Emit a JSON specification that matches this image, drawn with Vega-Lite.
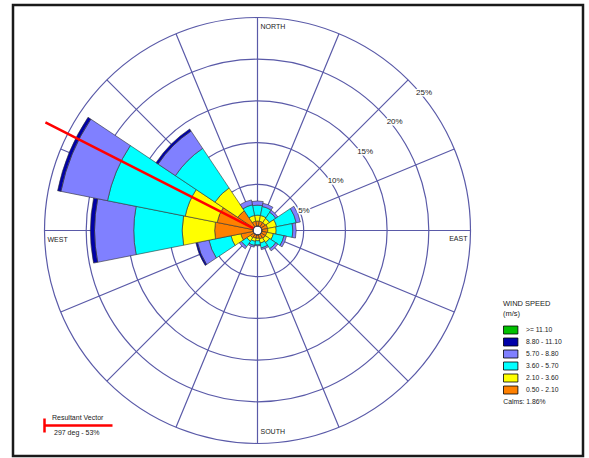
{
  "$schema": "https://vega.github.io/schema/vega-lite/v6.json",
  "width": 570,
  "height": 451,
  "autosize": "none",
  "padding": {"left": 13, "top": 5, "right": 6, "bottom": 2},
  "background": "white",
  "config": {"view": {"stroke": null}, "font": "Liberation Sans"},
  "datasets": {
    "rings": [{"pct": 5, "label": "5%"}, {"pct": 10, "label": "10%"}, {"pct": 15, "label": "15%"}, {"pct": 20, "label": "20%"}, {"pct": 25, "label": "25%"}],
    "spokes": [{"deg": 0}, {"deg": 22.5}, {"deg": 45}, {"deg": 67.5}, {"deg": 90}, {"deg": 112.5}, {"deg": 135}, {"deg": 157.5}, {"deg": 180}, {"deg": 202.5}, {"deg": 225}, {"deg": 247.5}, {"deg": 270}, {"deg": 292.5}, {"deg": 315}, {"deg": 337.5}],
    "rose": [
      {"dir": "N", "speed": "0.50 - 2.10", "lo": 0.5, "pct": 0.6},
      {"dir": "N", "speed": "2.10 - 3.60", "lo": 2.1, "pct": 0.7},
      {"dir": "N", "speed": "3.60 - 5.70", "lo": 3.6, "pct": 1.2},
      {"dir": "N", "speed": "5.70 - 8.80", "lo": 5.7, "pct": 0.5},
      {"dir": "NNE", "speed": "0.50 - 2.10", "lo": 0.5, "pct": 0.6},
      {"dir": "NNE", "speed": "2.10 - 3.60", "lo": 2.1, "pct": 0.7},
      {"dir": "NNE", "speed": "3.60 - 5.70", "lo": 3.6, "pct": 1.1},
      {"dir": "NNE", "speed": "5.70 - 8.80", "lo": 5.7, "pct": 0.4},
      {"dir": "NE", "speed": "0.50 - 2.10", "lo": 0.5, "pct": 0.6},
      {"dir": "NE", "speed": "2.10 - 3.60", "lo": 2.1, "pct": 0.6},
      {"dir": "NE", "speed": "3.60 - 5.70", "lo": 3.6, "pct": 0.9},
      {"dir": "NE", "speed": "5.70 - 8.80", "lo": 5.7, "pct": 0.3},
      {"dir": "ENE", "speed": "0.50 - 2.10", "lo": 0.5, "pct": 0.7},
      {"dir": "ENE", "speed": "2.10 - 3.60", "lo": 2.1, "pct": 1.1},
      {"dir": "ENE", "speed": "3.60 - 5.70", "lo": 3.6, "pct": 2.4},
      {"dir": "ENE", "speed": "5.70 - 8.80", "lo": 5.7, "pct": 0.5},
      {"dir": "E", "speed": "0.50 - 2.10", "lo": 0.5, "pct": 0.7},
      {"dir": "E", "speed": "2.10 - 3.60", "lo": 2.1, "pct": 1.0},
      {"dir": "E", "speed": "3.60 - 5.70", "lo": 3.6, "pct": 2.0},
      {"dir": "E", "speed": "5.70 - 8.80", "lo": 5.7, "pct": 0.4},
      {"dir": "ESE", "speed": "0.50 - 2.10", "lo": 0.5, "pct": 0.6},
      {"dir": "ESE", "speed": "2.10 - 3.60", "lo": 2.1, "pct": 0.8},
      {"dir": "ESE", "speed": "3.60 - 5.70", "lo": 3.6, "pct": 1.3},
      {"dir": "ESE", "speed": "5.70 - 8.80", "lo": 5.7, "pct": 0.3},
      {"dir": "SE", "speed": "0.50 - 2.10", "lo": 0.5, "pct": 0.6},
      {"dir": "SE", "speed": "2.10 - 3.60", "lo": 2.1, "pct": 0.6},
      {"dir": "SE", "speed": "3.60 - 5.70", "lo": 3.6, "pct": 0.9},
      {"dir": "SE", "speed": "5.70 - 8.80", "lo": 5.7, "pct": 0.3},
      {"dir": "SSE", "speed": "0.50 - 2.10", "lo": 0.5, "pct": 0.5},
      {"dir": "SSE", "speed": "2.10 - 3.60", "lo": 2.1, "pct": 0.5},
      {"dir": "SSE", "speed": "3.60 - 5.70", "lo": 3.6, "pct": 0.6},
      {"dir": "SSE", "speed": "5.70 - 8.80", "lo": 5.7, "pct": 0.2},
      {"dir": "S", "speed": "0.50 - 2.10", "lo": 0.5, "pct": 0.4},
      {"dir": "S", "speed": "2.10 - 3.60", "lo": 2.1, "pct": 0.3},
      {"dir": "S", "speed": "3.60 - 5.70", "lo": 3.6, "pct": 0.5},
      {"dir": "S", "speed": "5.70 - 8.80", "lo": 5.7, "pct": 0.1},
      {"dir": "SSW", "speed": "0.50 - 2.10", "lo": 0.5, "pct": 0.4},
      {"dir": "SSW", "speed": "2.10 - 3.60", "lo": 2.1, "pct": 0.4},
      {"dir": "SSW", "speed": "3.60 - 5.70", "lo": 3.6, "pct": 0.5},
      {"dir": "SSW", "speed": "5.70 - 8.80", "lo": 5.7, "pct": 0.2},
      {"dir": "SW", "speed": "0.50 - 2.10", "lo": 0.5, "pct": 0.5},
      {"dir": "SW", "speed": "2.10 - 3.60", "lo": 2.1, "pct": 0.5},
      {"dir": "SW", "speed": "3.60 - 5.70", "lo": 3.6, "pct": 0.8},
      {"dir": "SW", "speed": "5.70 - 8.80", "lo": 5.7, "pct": 0.3},
      {"dir": "WSW", "speed": "0.50 - 2.10", "lo": 0.5, "pct": 1.5},
      {"dir": "WSW", "speed": "2.10 - 3.60", "lo": 2.1, "pct": 1.2},
      {"dir": "WSW", "speed": "3.60 - 5.70", "lo": 3.6, "pct": 2.7},
      {"dir": "WSW", "speed": "5.70 - 8.80", "lo": 5.7, "pct": 1.4},
      {"dir": "WSW", "speed": "8.80 - 11.10", "lo": 8.8, "pct": 0.2},
      {"dir": "W", "speed": "0.50 - 2.10", "lo": 0.5, "pct": 4.6},
      {"dir": "W", "speed": "2.10 - 3.60", "lo": 2.1, "pct": 3.9},
      {"dir": "W", "speed": "3.60 - 5.70", "lo": 3.6, "pct": 5.8},
      {"dir": "W", "speed": "5.70 - 8.80", "lo": 5.7, "pct": 4.7},
      {"dir": "W", "speed": "8.80 - 11.10", "lo": 8.8, "pct": 0.5},
      {"dir": "WNW", "speed": "0.50 - 2.10", "lo": 0.5, "pct": 4.4},
      {"dir": "WNW", "speed": "2.10 - 3.60", "lo": 2.1, "pct": 3.9},
      {"dir": "WNW", "speed": "3.60 - 5.70", "lo": 3.6, "pct": 9.5},
      {"dir": "WNW", "speed": "5.70 - 8.80", "lo": 5.7, "pct": 5.7},
      {"dir": "WNW", "speed": "8.80 - 11.10", "lo": 8.8, "pct": 0.4},
      {"dir": "NW", "speed": "0.50 - 2.10", "lo": 0.5, "pct": 2.3},
      {"dir": "NW", "speed": "2.10 - 3.60", "lo": 2.1, "pct": 3.3},
      {"dir": "NW", "speed": "3.60 - 5.70", "lo": 3.6, "pct": 5.7},
      {"dir": "NW", "speed": "5.70 - 8.80", "lo": 5.7, "pct": 2.5},
      {"dir": "NW", "speed": "8.80 - 11.10", "lo": 8.8, "pct": 0.3},
      {"dir": "NNW", "speed": "0.50 - 2.10", "lo": 0.5, "pct": 0.6},
      {"dir": "NNW", "speed": "2.10 - 3.60", "lo": 2.1, "pct": 0.7},
      {"dir": "NNW", "speed": "3.60 - 5.70", "lo": 3.6, "pct": 1.3},
      {"dir": "NNW", "speed": "5.70 - 8.80", "lo": 5.7, "pct": 0.6}
    ],
    "resultant": [{"deg": 297, "label": "297 deg - 53%"}],
    "calm": [{"label": "Calms: 1.86%"}]
  },
  "resolve": {"scale": {"theta": "independent"}},
  "layer": [
    {
      "data": {"values": [{}]},
      "mark": {"type": "rect", "fill": "transparent", "stroke": "#1a1a1a", "strokeWidth": 2.5},
      "encoding": {}
    },
    {
      "data": {"name": "rings"},
      "mark": {"type": "arc", "filled": false, "stroke": "#5a5aa8", "strokeWidth": 1.2, "theta": 0, "theta2": 6.2832, "xOffset": -40.5},
      "encoding": {
        "radius": {"field": "pct", "type": "quantitative", "stack": false, "scale": {"type": "linear", "domain": [0, 25], "range": [4.5, 213], "nice": false, "zero": false}}
      }
    },
    {
      "data": {"name": "spokes"},
      "mark": {"type": "arc", "filled": false, "stroke": "#5a5aa8", "strokeWidth": 1.2, "xOffset": -40.5},
      "encoding": {
        "theta": {"field": "deg", "type": "quantitative", "stack": false, "scale": {"domain": [0, 360], "range": [0, 6.283185]}},
        "theta2": {"field": "deg"},
        "radius": {"datum": 25, "type": "quantitative"},
        "radius2": {"datum": 0}
      }
    },
    {
      "data": {"name": "rose"},
      "mark": {"type": "arc", "stroke": "#333333", "strokeWidth": 0.6, "xOffset": -40.5},
      "encoding": {
        "theta": {"field": "dir", "type": "nominal", "scale": {"type": "band", "domain": ["N", "NNE", "NE", "ENE", "E", "ESE", "SE", "SSE", "S", "SSW", "SW", "WSW", "W", "WNW", "NW", "NNW"], "range": [-0.19635, 6.08684], "paddingInner": 0, "paddingOuter": 0}},
        "radius": {"field": "pct", "type": "quantitative", "stack": true},
        "color": {
          "field": "speed", "type": "nominal",
          "scale": {"domain": [">= 11.10", "8.80 - 11.10", "5.70 - 8.80", "3.60 - 5.70", "2.10 - 3.60", "0.50 - 2.10"], "range": ["#00c000", "#0000a8", "#8080ff", "#00ffff", "#ffff00", "#ff8000"]},
          "legend": {
            "orient": "none", "legendX": 490, "legendY": 295, "padding": 0,
            "title": ["WIND SPEED", "(m/s)"], "titleFontSize": 7.5, "titleFontWeight": "normal", "titleColor": "#222222", "titleLineHeight": 10, "titlePadding": 8,
            "symbolType": "M-1,-1H2.6V1H-1Z", "symbolSize": 64, "symbolStrokeColor": "#000000", "symbolStrokeWidth": 0.8,
            "labelFontSize": 6.8, "labelColor": "#222222", "labelOffset": 14, "rowPadding": -1
          }
        },
        "order": {"field": "lo", "type": "quantitative", "sort": "ascending"}
      }
    },
    {
      "data": {"name": "resultant"},
      "mark": {"type": "arc", "filled": false, "strokeWidth": 2.5, "xOffset": -40.5},
      "encoding": {
        "theta": {"field": "deg", "type": "quantitative", "stack": false, "scale": {"domain": [0, 360], "range": [0, 6.283185]}},
        "theta2": {"field": "deg"},
        "radius": {"datum": 28, "type": "quantitative"},
        "radius2": {"datum": 0},
        "stroke": {
          "field": "label", "type": "nominal", "scale": {"range": ["#ff0000"]},
          "legend": {
            "orient": "none", "legendX": 39, "legendY": 409, "padding": 0,
            "title": "Resultant Vector", "titleFontSize": 7, "titleFontWeight": "normal", "titleColor": "#222222", "titlePadding": 1,
            "symbolType": "M-5.5,-3.5V3.5M-5.5,0H28.5", "symbolSize": 16, "symbolStrokeWidth": 2.5, "symbolFillColor": "transparent",
            "labelFontSize": 7, "labelColor": "#222222", "labelOffset": -5,
            "encode": {"labels": {"update": {"dy": {"value": 7}}}}
          }
        }
      }
    },
    {
      "data": {"name": "calm"},
      "mark": {"type": "arc", "fill": "white", "stroke": "#444444", "strokeWidth": 0.8, "theta": 0, "theta2": 6.2832, "xOffset": -40.5},
      "encoding": {
        "radius": {"datum": 0, "type": "quantitative"},
        "opacity": {
          "field": "label", "type": "nominal", "scale": {"range": [1]},
          "legend": {"orient": "none", "legendX": 490, "legendY": 394, "padding": 0, "title": null, "symbolType": "M0,0", "symbolSize": 4, "labelOffset": -6.5, "labelFontSize": 6.8, "labelColor": "#222222"}
        }
      }
    },
    {
      "data": {"name": "rings"},
      "mark": {"type": "text", "theta": 0.7854, "align": "left", "baseline": "top", "dx": 8, "dy": 9, "xOffset": -40.5, "fontSize": 8, "fill": "white", "stroke": "white", "strokeWidth": 3},
      "encoding": {"radius": {"field": "pct", "type": "quantitative", "stack": false}, "text": {"field": "label"}}
    },
    {
      "data": {"name": "rings"},
      "mark": {"type": "text", "theta": 0.7854, "align": "left", "baseline": "top", "dx": 8, "dy": 9, "xOffset": -40.5, "fontSize": 8, "color": "#222222"},
      "encoding": {"radius": {"field": "pct", "type": "quantitative", "stack": false}, "text": {"field": "label"}}
    },
    {
      "data": {"values": [{"deg": 0, "name": "NORTH"}, {"deg": 270, "name": "WEST"}]},
      "mark": {"type": "text", "align": "left", "baseline": "top", "dx": 3, "dy": 5, "xOffset": -40.5, "fontSize": 7, "color": "#222222"},
      "encoding": {
        "theta": {"field": "deg", "type": "quantitative", "stack": false, "scale": {"domain": [0, 360], "range": [0, 6.283185]}},
        "radius": {"datum": 25, "type": "quantitative"},
        "text": {"field": "name"}
      }
    },
    {
      "data": {"values": [{"deg": 180, "name": "SOUTH"}]},
      "mark": {"type": "text", "align": "left", "baseline": "bottom", "dx": 3, "dy": -9, "xOffset": -40.5, "fontSize": 7, "color": "#222222"},
      "encoding": {
        "theta": {"field": "deg", "type": "quantitative", "stack": false, "scale": {"domain": [0, 360], "range": [0, 6.283185]}},
        "radius": {"datum": 25, "type": "quantitative"},
        "text": {"field": "name"}
      }
    },
    {
      "data": {"values": [{"deg": 90, "name": "EAST"}]},
      "mark": {"type": "text", "align": "right", "baseline": "top", "dx": -3, "dy": 5, "xOffset": -40.5, "fontSize": 7, "color": "#222222"},
      "encoding": {
        "theta": {"field": "deg", "type": "quantitative", "stack": false, "scale": {"domain": [0, 360], "range": [0, 6.283185]}},
        "radius": {"datum": 25, "type": "quantitative"},
        "text": {"field": "name"}
      }
    }
  ]
}
